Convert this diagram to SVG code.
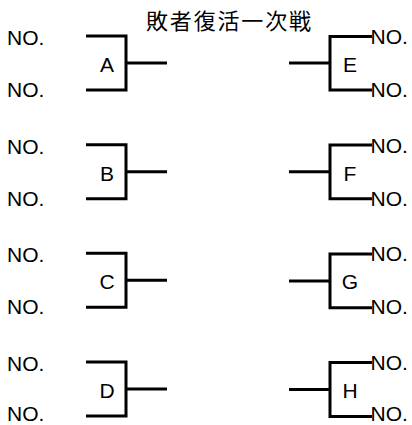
<svg xmlns="http://www.w3.org/2000/svg" width="412" height="425" viewBox="0 0 412 425">
<style>
  .ln { stroke: #000; stroke-width: 3; fill: none; }
  .t { font-family: "Liberation Sans", Arial, sans-serif; font-size: 21px; fill: #000; }
  .lb { font-family: "Liberation Sans", Arial, sans-serif; font-size: 21px; fill: #000; text-anchor: middle; }
  .title { font-family: "Noto Sans CJK JP", "Noto Sans CJK SC", sans-serif; font-size: 22px; fill: #000; }
</style>
<rect width="412" height="425" fill="#fff"/>
<text class="title" x="146" y="29" textLength="165" lengthAdjust="spacing">敗者復活一次戦</text>
<g id="connectors">
  <path class="ln" d="M86 36 H126 V90 H86 M126 63 H167"/>
  <path class="ln" d="M86 144.7 H126 V198.7 H86 M126 171.7 H167"/>
  <path class="ln" d="M86 253.3 H126 V307.3 H86 M126 280.3 H167"/>
  <path class="ln" d="M86 362 H126 V416 H86 M126 389 H167"/>
  <path class="ln" d="M372 36.5 H330 V90 H372 M330 63 H289"/>
  <path class="ln" d="M372 145 H330 V198.7 H372 M330 171.7 H289"/>
  <path class="ln" d="M372 254 H330 V307.7 H372 M330 281 H289"/>
  <path class="ln" d="M372 362.5 H330 V416.5 H372 M330 389.5 H289"/>
</g>
<g id="A"><text class="lb" x="107" y="72">A</text><text class="t" x="7" y="45">NO.</text><text class="t" x="7" y="97">NO.</text></g>
<g id="B"><text class="lb" x="107" y="180.7">B</text><text class="t" x="7" y="153.7">NO.</text><text class="t" x="7" y="205.7">NO.</text></g>
<g id="C"><text class="lb" x="107" y="289.3">C</text><text class="t" x="7" y="262.3">NO.</text><text class="t" x="7" y="314.3">NO.</text></g>
<g id="D"><text class="lb" x="107" y="398">D</text><text class="t" x="7" y="371">NO.</text><text class="t" x="7" y="420.5">NO.</text></g>
<g id="E"><text class="lb" x="350" y="72">E</text><text class="t" x="370.5" y="44">NO.</text><text class="t" x="370.5" y="97">NO.</text></g>
<g id="F"><text class="lb" x="350" y="180.7">F</text><text class="t" x="370.5" y="152.7">NO.</text><text class="t" x="370.5" y="205.7">NO.</text></g>
<g id="G"><text class="lb" x="350" y="289.3">G</text><text class="t" x="370.5" y="261.3">NO.</text><text class="t" x="370.5" y="314.3">NO.</text></g>
<g id="H"><text class="lb" x="350" y="398">H</text><text class="t" x="370.5" y="370">NO.</text><text class="t" x="370.5" y="420.5">NO.</text></g>
</svg>
